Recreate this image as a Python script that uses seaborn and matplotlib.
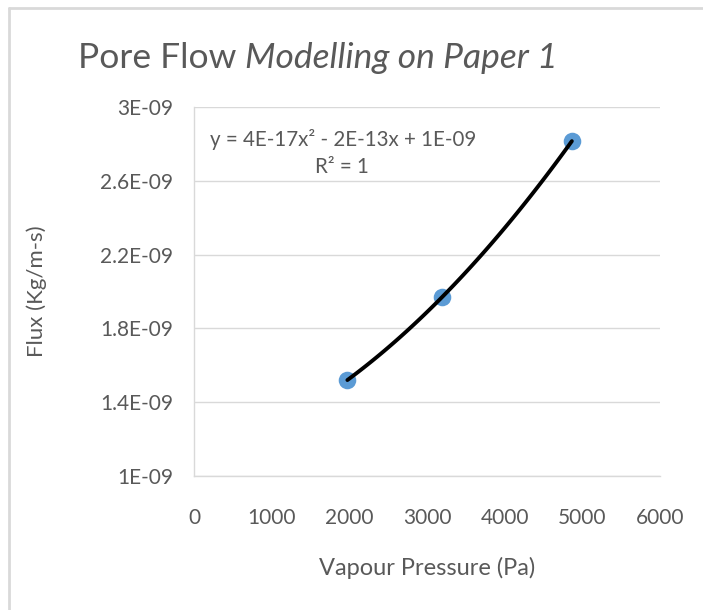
import matplotlib
matplotlib.use("Agg")
import matplotlib.pyplot as plt
import seaborn as sns
import pandas as pd
import numpy as np
from matplotlib.lines import Line2D

# Data
pressure = [1975, 3195, 4865]
flux = [1.52e-9, 1.97e-9, 2.815e-9]
y_ticks = [1.0e-9, 1.4e-9, 1.8e-9, 2.2e-9, 2.6e-9, 3.0e-9]
y_tick_labels = ["1E-09", "1.4E-09", "1.8E-09", "2.2E-09", "2.6E-09", "3E-09"]
x_ticks = [0, 1000, 2000, 3000, 4000, 5000, 6000]
title_plain = "Pore Flow "
title_italic = "Modelling on Paper 1"
equation = "y = 4E-17x² - 2E-13x + 1E-09"
r2_text = "R² = 1"

df = pd.DataFrame({"pressure": pressure, "flux": flux})

sns.set_theme(style="white")
plt.rcParams['font.family'] = ['Lato', 'DejaVu Sans']

TXT = "#595959"
GRID = "#D9D9D9"

fig = plt.figure(figsize=(7.03, 6.10), dpi=100)
ax = fig.add_axes([194/703, 1 - 476/610, (660-194)/703, (476-107)/610])

sns.scatterplot(data=df, x="pressure", y="flux", ax=ax, s=160, color="#5B9BD5",
                edgecolor="#5B9BD5", linewidth=0, zorder=3)
sns.regplot(data=df, x="pressure", y="flux", ax=ax, order=2, ci=None, scatter=False,
            line_kws=dict(color="black", lw=2.8, zorder=4), truncate=True)

ax.set_xlim(0, 6000)
ax.set_ylim(1.0e-9, 3.0e-9)
ax.set_xticks(x_ticks)
ax.set_xticklabels([str(v) for v in x_ticks])
ax.set_yticks(y_ticks)
ax.set_yticklabels(y_tick_labels)
ax.tick_params(axis="x", length=0, pad=23, labelsize=15, colors=TXT)
ax.tick_params(axis="y", length=0, pad=15, labelsize=15, colors=TXT)
ax.yaxis.grid(True, color=GRID, lw=1)
ax.xaxis.grid(False)
for s in ["top", "right"]:
    ax.spines[s].set_visible(False)
for s in ["left", "bottom"]:
    ax.spines[s].set_color(GRID)
    ax.spines[s].set_linewidth(1)

ax.set_xlabel("Vapour Pressure (Pa)", fontsize=17, color=TXT, labelpad=21)
ax.set_ylabel("Flux (Kg/m-s)", fontsize=16, color=TXT, labelpad=38)

ax.text(210/703, 1 - 140/610, equation, transform=fig.transFigure, fontsize=14.8,
        color=TXT, ha="left", va="center")
ax.text(342/703, 1 - 167/610, r2_text, transform=fig.transFigure, fontsize=14.8,
        color=TXT, ha="center", va="center")

t1 = fig.text(78/703, 1 - 58/610, title_plain, fontsize=25.5, color=TXT,
              ha="left", va="center")
fig.canvas.draw()
ax.annotate(title_italic, xy=(1, 0), xycoords=t1, xytext=(0, 0), textcoords="offset points",
            ha="left", va="bottom", fontsize=25.5, color=TXT, style="italic",
            annotation_clip=False)

# Chart border (top and left visible)
fig.add_artist(Line2D([9/703, 1], [1 - 8/610, 1 - 8/610], transform=fig.transFigure, color=GRID, lw=2))
fig.add_artist(Line2D([9/703, 9/703], [0, 1 - 8/610], transform=fig.transFigure, color=GRID, lw=2))

fig.savefig("out.png", dpi=100)
